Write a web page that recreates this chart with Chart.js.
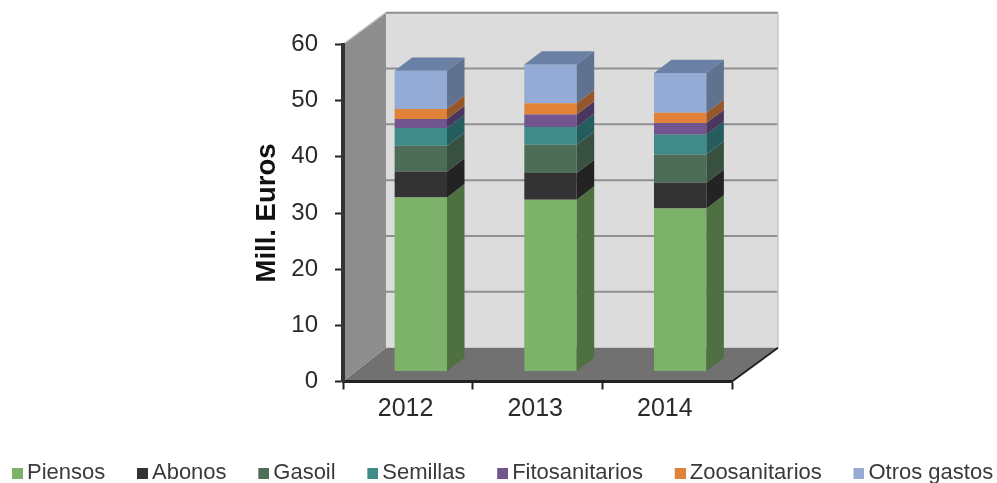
<!DOCTYPE html>
<html>
<head>
<meta charset="utf-8">
<style>
html,body{margin:0;padding:0;background:#fff;}
#wrap{width:997px;height:483px;position:relative;}
canvas{filter:blur(0.6px);}
</style>
<script src="https://cdn.jsdelivr.net/npm/chart.js@4"></script>
</head>
<body>
<div id="wrap"><canvas id="c" width="997" height="483"></canvas></div>
<script>
const years = ['2012','2013','2014'];
const piensos = [31.0,30.6,29.0];
const abonos = [4.6,4.75,4.6];
const gasoil = [4.6,5.0,5.05];
const semillas = [3.15,3.2,3.5];
const fitosanitarios = [1.6,2.2,2.1];
const zoosanitarios = [1.8,2.0,1.8];
const otrosGastos = [6.8,6.9,7.1];
const seriesNames = ['Piensos','Abonos','Gasoil','Semillas','Fitosanitarios','Zoosanitarios','Otros gastos'];
const seriesValues = [piensos,abonos,gasoil,semillas,fitosanitarios,zoosanitarios,otrosGastos];
const frontColors = ['#7cb26a','#333333','#4f6e57','#3e8b87','#70558f','#e08238','#94abd5'];
const sideColors = ['#4f7040','#232323','#37503f','#255c5e','#4a3760','#96582a','#5f7290'];
const topColor = '#6a80a5';
const legendGap = 31.7;

function stipple(base, dot){
  const p=document.createElement('canvas');p.width=4;p.height=4;
  const g=p.getContext('2d');g.fillStyle=base;g.fillRect(0,0,4,4);
  g.fillStyle=dot;g.fillRect(0,0,1,1);g.fillRect(2,2,1,1);
  return g.createPattern(p,'repeat');
}
function legendSwatch(color){
  const s=document.createElement('canvas');s.width=18;s.height=11;
  const g=s.getContext('2d');g.fillStyle=color;g.fillRect(7,0,11,11);
  return s;
}
const BAR_DX=13,BAR_DY=-10,DEPTH_X=17.5,DEPTH_Y=-13.3;
function poly(ctx,pts,fill){
  ctx.beginPath();pts.forEach((p,i)=>i?ctx.lineTo(p[0],p[1]):ctx.moveTo(p[0],p[1]));ctx.closePath();
  ctx.fillStyle=fill;ctx.fill();
}
const walls3d={
  id:'walls3d',
  beforeLayout(chart){
    const l=chart.legend;
    if(l&&!l._wide){const u=l.update;l.update=function(w,h,m){return u.call(this,1400,h,m);};l._wide=true;}
  },
  afterLayout(chart){
    const l=chart.legend;const h=l.bottom-l.top;
    l.top=430.5;l.bottom=430.5+h;
    l.right=1200;l.left=12*2-legendGap+l.lineWidths[0]-l.right;
  },
  beforeDraw(chart){
    const {ctx,chartArea:a,scales:{y}}=chart;
    const bx=x=>386+(x-a.left)*(392/(a.right-a.left));
    const by=v=>347.7-(y.getPixelForValue(0)-y.getPixelForValue(v))*(335/(a.bottom-a.top));
    const top=by(60),bot=by(0),bl=bx(a.left),br=bx(a.right);
    ctx.save();
    poly(ctx,[[bl,top],[br,top],[br,bot],[bl,bot]],'#dcdcdc');
    poly(ctx,[[a.left,a.top],[bl,top],[bl,bot],[a.left,a.bottom]],stipple('#8c8c8c','#9a9a9a'));
    poly(ctx,[[a.left,a.bottom],[bl,bot],[br,bot],[a.right,a.bottom]],stipple('#707070','#7a7674'));
    ctx.strokeStyle='#8f8f8f';ctx.lineWidth=2;
    y.ticks.forEach(t=>{ if(t.value===0)return; const py=by(t.value);
      ctx.beginPath();ctx.moveTo(bl,py);ctx.lineTo(br,py);ctx.stroke();});
    ctx.strokeStyle='#b8b8b8';ctx.lineWidth=1.5;
    ctx.beginPath();ctx.moveTo(a.left,a.top);ctx.lineTo(bl,top);ctx.stroke();
    ctx.strokeStyle='#c8c8c8';
    ctx.beginPath();ctx.moveTo(br,top);ctx.lineTo(br,bot);ctx.stroke();
    ctx.strokeStyle='#222';ctx.lineWidth=2;
    ctx.beginPath();ctx.moveTo(a.right,a.bottom);ctx.lineTo(br,bot);ctx.stroke();
    ctx.restore();
  },
  beforeDatasetsDraw(chart){chart.ctx.save();chart.ctx.translate(BAR_DX,BAR_DY);},
  afterDatasetsDraw(chart){
    const ctx=chart.ctx;
    chart.data.datasets.forEach((ds,di)=>{
      chart.getDatasetMeta(di).data.forEach(el=>{
        const p=el.getProps(['x','y','base','width'],true);
        const r=p.x+p.width/2,l=p.x-p.width/2;
        poly(ctx,[[r,p.base],[r+DEPTH_X,p.base+DEPTH_Y],[r+DEPTH_X,p.y+DEPTH_Y],[r,p.y]],sideColors[di]);
        if(di===chart.data.datasets.length-1){
          poly(ctx,[[l,p.y],[r,p.y],[r+DEPTH_X,p.y+DEPTH_Y],[l+DEPTH_X,p.y+DEPTH_Y]],topColor);
        }
      });
    });
    ctx.restore();
  }
};
new Chart(document.getElementById('c'),{
  type:'bar',
  data:{labels:years,datasets:seriesNames.map((n,i)=>({
    label:n,data:seriesValues[i],
    backgroundColor:i===2?stipple(frontColors[i],'#45624e'):frontColors[i],
    borderWidth:0,barPercentage:1,categoryPercentage:0.404,clip:false
  }))},
  options:{
    responsive:false,animation:false,
    layout:{padding:{left:6,top:44.5,right:0,bottom:0}},
    plugins:{
      tooltip:{enabled:false},
      legend:{position:'bottom',labels:{
        usePointStyle:true,pointStyleWidth:4,padding:legendGap,color:'#3a3a3a',
        font:{family:'"Liberation Sans",Arial,sans-serif',size:22},
        generateLabels(chart){
          return Chart.defaults.plugins.legend.labels.generateLabels(chart).map((it,i)=>
            Object.assign(it,{pointStyle:legendSwatch(frontColors[i])}));
        }
      }}
    },
    scales:{
      x:{stacked:true,
        grid:{display:true,drawOnChartArea:false,offset:true,tickLength:8,tickColor:'#222',tickWidth:2},
        border:{display:true,color:'#222',width:3},
        ticks:{color:'#2a2a2a',padding:5,maxRotation:0,labelOffset:-2.3,font:{family:'"Liberation Sans",Arial,sans-serif',size:25}},
        afterFit(s){s.height=37.8;}},
      y:{stacked:true,min:0,max:60,
        grid:{display:true,drawOnChartArea:false,tickLength:8,tickColor:'#222',tickWidth:2},
        border:{display:true,color:'#333',width:4},
        ticks:{stepSize:10,color:'#2a2a2a',padding:17,font:{family:'"Liberation Sans",Arial,sans-serif',size:24}},
        title:{display:true,text:'Mill. Euros',color:'#111',padding:{top:245,bottom:0},font:{family:'"Liberation Sans",Arial,sans-serif',size:27.5,weight:'bold'}},
        afterFit(s){s.width=337;}},
      yr:{type:'linear',position:'right',display:true,min:0,max:60,
        grid:{display:false},border:{display:false},ticks:{display:false},
        afterFit(s){s.width=265;}}
    }
  },
  plugins:[walls3d]
});
</script>
</body>
</html>
